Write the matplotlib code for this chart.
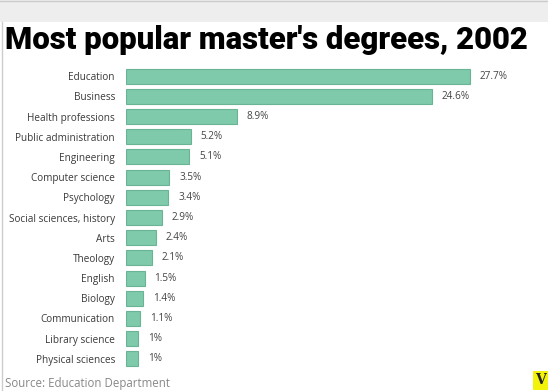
import matplotlib
matplotlib.use('Agg')
import matplotlib.pyplot as plt
from matplotlib.patches import Rectangle

# Share of master's degrees by field, 2002 (percent)
fields = ['Education', 'Business', 'Health professions', 'Public administration',
          'Engineering', 'Computer science', 'Psychology', 'Social sciences, history',
          'Arts', 'Theology', 'English', 'Biology', 'Communication',
          'Library science', 'Physical sciences']
shares = [27.7, 24.6, 8.9, 5.2, 5.1, 3.5, 3.4, 2.9, 2.4, 2.1, 1.5, 1.4, 1.1, 1.0, 1.0]
value_labels = ['27.7%', '24.6%', '8.9%', '5.2%', '5.1%', '3.5%', '3.4%', '2.9%',
                '2.4%', '2.1%', '1.5%', '1.4%', '1.1%', '1%', '1%']

W, H = 548, 391
fig = plt.figure(figsize=(W / 100, H / 100), dpi=100)
fig.patch.set_facecolor('white')

# grey band on top and thin frame lines
fig.patches.append(Rectangle((0, 1 - 22 / H), 1, 22 / H, transform=fig.transFigure,
                             facecolor='#eeeeee', edgecolor='none', zorder=0))
fig.add_artist(plt.Line2D([2 / W, 2 / W], [0, 1 - 22 / H], transform=fig.transFigure,
                          color='#cccccc', lw=1))
fig.add_artist(plt.Line2D([0, 1], [1 - 1 / H, 1 - 1 / H], transform=fig.transFigure,
                          color='#cccccc', lw=1))

title = fig.text(5 / W, 1 - 40 / H, "Most popular master's degrees, 2002", fontsize=22,
                 fontweight='black', family='Roboto', color='black',
                 va='center', ha='left')
# shrink title so it spans about 523 px like the reference
r = fig.canvas.get_renderer()
tw = title.get_window_extent(r).width
title.set_fontsize(22 * 523 / tw)

left, right = 126, 126 + 30 * 12.42
top, bottom = 66, 369
ax = fig.add_axes([left / W, 1 - bottom / H, (right - left) / W, (bottom - top) / H])
ypos = list(range(len(fields)))
ax.barh(ypos, shares, height=0.74, color='#7ecaaa', edgecolor='#6ab496', linewidth=0.8)
ax.set_xlim(0, 30)
ax.set_ylim(len(fields) - 0.5, -0.5)
ax.set_yticks(ypos)
ax.set_yticklabels(fields, family='Open Sans', fontsize=7.2, color='#3a3a3a')
ax.tick_params(axis='y', length=0, pad=8)
ax.set_xticks([])
for s in ax.spines.values():
    s.set_visible(False)
for y, v, t in zip(ypos, shares, value_labels):
    ax.text(v + 0.8, y, t, va='center', ha='left', family='Open Sans',
            fontsize=7.2, color='#444444')

fig.text(5 / W, 1 - 383 / H, 'Source: Education Department', family='Open Sans',
         fontsize=8.3, color='#888888', va='center', ha='left')

# yellow V logo
fig.patches.append(Rectangle((533 / W, 1 - 390 / H), 15 / W, 19 / H,
                             transform=fig.transFigure, facecolor='#f2f20a',
                             edgecolor='none'))
fig.text(540.5 / W, 1 - 380 / H, 'V', fontsize=10, fontweight='bold', family='DejaVu Serif',
         color='#222222', ha='center', va='center')

fig.savefig('out.png', dpi=100)
